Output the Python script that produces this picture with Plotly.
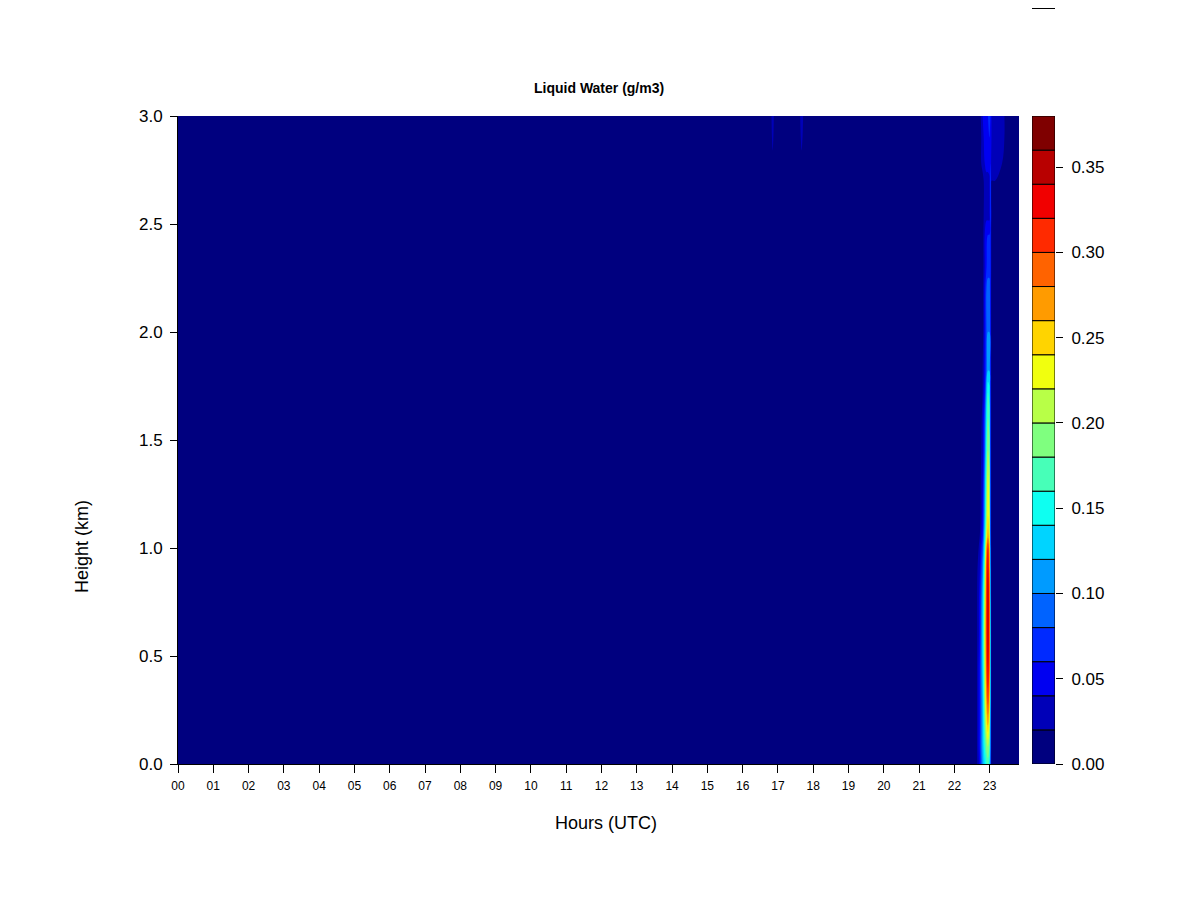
import plotly.graph_objects as go

# ---------------- data ----------------
HOUR_TICKS = list(range(24))
HOUR_LABELS = [f"{h:02d}" for h in HOUR_TICKS]
HEIGHT_TICKS = [0.0, 0.5, 1.0, 1.5, 2.0, 2.5, 3.0]
LEVELS = [round(0.02 * i, 2) for i in range(20)]          # 0.00 ... 0.38
CB_TICKS = [0.0, 0.05, 0.10, 0.15, 0.20, 0.25, 0.30, 0.35]

# jet-like palette (19 bands, bottom -> top)
BAND_COLORS = ["#00007F", "#0000B8", "#0000F1", "#002AFF", "#0063FF", "#009BFF",
               "#00D4FF", "#0EFFF1", "#47FFB8", "#7FFF7F", "#B8FF47", "#F1FF0E",
               "#FFD400", "#FF9B00", "#FF6300", "#FF2A00", "#F10000", "#B80000",
               "#7F0000"]

# time columns (hours)
START_COL = [0.0]
STREAK_COLS = [16.75, 16.85, 16.95, 17.55, 17.67, 17.8]
SPIKE_COLS = [22.62, 22.72, 22.8, 22.86, 22.91, 22.95, 22.99, 23.02, 23.05, 23.15, 23.35, 23.55]
END_COL = [23.83]

HEIGHTS = [0.0, 0.08, 0.18, 0.3, 0.45, 0.6, 0.75, 0.9, 1.0, 1.06, 1.15, 1.3, 1.45,
           1.6, 1.72, 1.82, 2.0, 2.2, 2.3, 2.45, 2.55, 2.7, 2.78, 2.9, 3.0]

# liquid water (g/m3) around 23 UTC, one row per height
SPIKE = [
    [0.01, 0.05, 0.11, 0.14, 0.16, 0.17, 0.15, 0.09, 0, 0, 0, 0],
    [0.01, 0.06, 0.12, 0.16, 0.19, 0.20, 0.18, 0.10, 0, 0, 0, 0],
    [0.01, 0.06, 0.12, 0.18, 0.23, 0.26, 0.22, 0.10, 0, 0, 0, 0],
    [0.01, 0.06, 0.12, 0.20, 0.27, 0.31, 0.27, 0.11, 0, 0, 0, 0],
    [0.01, 0.06, 0.13, 0.21, 0.30, 0.34, 0.30, 0.11, 0, 0, 0, 0],
    [0.01, 0.05, 0.13, 0.22, 0.31, 0.35, 0.31, 0.11, 0, 0, 0, 0],
    [0.01, 0.05, 0.12, 0.21, 0.31, 0.35, 0.31, 0.10, 0, 0, 0, 0],
    [0.01, 0.04, 0.10, 0.19, 0.30, 0.34, 0.29, 0.09, 0, 0, 0, 0],
    [0.00, 0.03, 0.08, 0.16, 0.27, 0.32, 0.27, 0.08, 0, 0, 0, 0],
    [0.00, 0.02, 0.06, 0.14, 0.22, 0.27, 0.24, 0.07, 0, 0, 0, 0],
    [0.00, 0.01, 0.05, 0.12, 0.20, 0.24, 0.22, 0.07, 0, 0, 0, 0],
    [0.00, 0.01, 0.04, 0.11, 0.18, 0.23, 0.21, 0.07, 0, 0, 0, 0],
    [0.00, 0.01, 0.03, 0.09, 0.16, 0.20, 0.19, 0.07, 0, 0, 0, 0],
    [0.00, 0.00, 0.03, 0.08, 0.14, 0.18, 0.17, 0.07, 0, 0, 0, 0],
    [0.00, 0.00, 0.02, 0.06, 0.12, 0.16, 0.15, 0.07, 0, 0, 0, 0],
    [0.00, 0.00, 0.02, 0.05, 0.09, 0.12, 0.12, 0.07, 0, 0, 0, 0],
    [0.00, 0.00, 0.01, 0.05, 0.08, 0.10, 0.10, 0.07, 0, 0, 0, 0],
    [0.00, 0.00, 0.01, 0.05, 0.08, 0.09, 0.09, 0.07, 0, 0, 0, 0],
    [0.00, 0.00, 0.01, 0.04, 0.06, 0.07, 0.07, 0.07, 0.01, 0, 0, 0],
    [0.00, 0.00, 0.01, 0.04, 0.06, 0.06, 0.06, 0.07, 0.01, 0, 0, 0],
    [0.00, 0.00, 0.01, 0.03, 0.03, 0.03, 0.03, 0.08, 0.02, 0.01, 0, 0],
    [0.00, 0.00, 0.01, 0.03, 0.03, 0.03, 0.03, 0.08, 0.02, 0.02, 0.01, 0],
    [0.00, 0.01, 0.03, 0.04, 0.05, 0.05, 0.06, 0.06, 0.03, 0.025, 0.02, 0.01],
    [0.00, 0.01, 0.03, 0.05, 0.05, 0.06, 0.06, 0.06, 0.04, 0.03, 0.025, 0.01],
    [0.00, 0.01, 0.04, 0.05, 0.06, 0.06, 0.07, 0.06, 0.04, 0.03, 0.025, 0.01],
]

# faint traces near 17 UTC at the top of the profile
STREAK = [[0, 0, 0, 0, 0, 0]] * 22 + [
    [0, 0.015, 0, 0, 0.015, 0],
    [0, 0.025, 0, 0, 0.025, 0],
    [0, 0.030, 0, 0, 0.030, 0],
]

# ---------------- build ----------------
times = START_COL + STREAK_COLS + SPIKE_COLS + END_COL
z = [[0] + s + p + [0] for s, p in zip(STREAK, SPIKE)]

n = len(BAND_COLORS)
colorscale = []
for k, c in enumerate(BAND_COLORS):
    colorscale.append([k / n, c])
    colorscale.append([(k + 1) / n, c])

FONT = "Liberation Sans, Arial, Helvetica, sans-serif"

fig = go.Figure()

fig.add_trace(go.Contour(
    x=times, y=HEIGHTS, z=z,
    zmin=LEVELS[0], zmax=LEVELS[-1],
    colorscale=colorscale,
    contours=dict(coloring="fill", start=LEVELS[1], end=LEVELS[-2], size=0.02,
                  showlines=False),
    line=dict(width=0),
    showscale=False,
    hoverinfo="skip",
))

# colour key drawn as stacked boxes
fig.add_trace(go.Bar(
    x=[0] * n,
    y=[LEVELS[i + 1] - LEVELS[i] for i in range(n)],
    base=LEVELS[:-1],
    width=1,
    marker=dict(color=BAND_COLORS, line=dict(color="black", width=1)),
    xaxis="x2", yaxis="y2",
    showlegend=False,
    hoverinfo="skip",
))

# the page body adds an 8 px offset, so layout is specified in reference px minus 8
OFF = 8
W, H = 1200 - OFF, 900 - OFF
L, T = 178 - OFF, 116 - OFF
R = W - (1055 - OFF)
B = H - (764 - OFF)
pw, ph = W - L - R, H - T - B

def px_x(p):
    return (p - OFF - L) / pw

def px_y(p):
    return (H - B - (p - OFF)) / ph

fig.update_layout(
    width=W, height=H,
    margin=dict(l=L, r=R, t=T, b=B),
    paper_bgcolor="white", plot_bgcolor="white",
    font=dict(family=FONT, color="black"),
    barmode="overlay",
    showlegend=False,
    xaxis=dict(
        domain=[0, px_x(1019)], range=[0, 23.83],
        tickvals=HOUR_TICKS, ticktext=HOUR_LABELS,
        ticks="outside", ticklen=8, tickcolor="black", tickwidth=1,
        ticklabelstandoff=3,
        tickfont=dict(size=12, family=FONT, color="black"),
        showline=True, linecolor="black", linewidth=1,
        showgrid=False, zeroline=False,
    ),
    yaxis=dict(
        domain=[0, 1], range=[0, 3],
        tickvals=HEIGHT_TICKS, ticktext=[f"{v:.1f}" for v in HEIGHT_TICKS],
        ticks="outside", ticklen=7, tickcolor="black", tickwidth=1,
        ticklabelstandoff=4,
        tickfont=dict(size=17, family=FONT, color="black"),
        showline=True, linecolor="black", linewidth=1,
        showgrid=False, zeroline=False,
    ),
    xaxis2=dict(
        domain=[px_x(1032), 1], range=[-0.5, 0.5], anchor="y2",
        visible=False, showgrid=False, zeroline=False,
    ),
    yaxis2=dict(
        domain=[0, 1], range=[LEVELS[0], LEVELS[-1]], anchor="x2", side="right",
        tickvals=CB_TICKS, ticktext=[f"{v:.2f}" for v in CB_TICKS],
        ticks="outside", ticklen=7, tickcolor="black", tickwidth=1,
        ticklabelstandoff=5,
        tickfont=dict(size=17, family=FONT, color="black"),
        showline=False, showgrid=False, zeroline=False,
    ),
    annotations=[
        dict(text="<b>Liquid Water (g/m3)</b>", xref="paper", yref="paper",
             x=px_x(598.5), y=px_y(88), xanchor="center", yanchor="middle",
             showarrow=False, font=dict(size=14, family=FONT, color="black")),
        dict(text="Hours (UTC)", xref="paper", yref="paper",
             x=px_x(606), y=px_y(823), xanchor="center", yanchor="middle",
             showarrow=False, font=dict(size=18, family=FONT, color="black")),
        dict(text="Height (km)", xref="paper", yref="paper", textangle=-90,
             x=px_x(82), y=px_y(547), xanchor="center", yanchor="middle",
             showarrow=False, font=dict(size=18, family=FONT, color="black")),
    ],
    shapes=[
        dict(type="line", xref="paper", yref="paper",
             x0=px_x(1032), x1=px_x(1055), y0=px_y(8.5), y1=px_y(8.5),
             line=dict(color="black", width=1)),
    ],
)

fig.write_html("out.html")
